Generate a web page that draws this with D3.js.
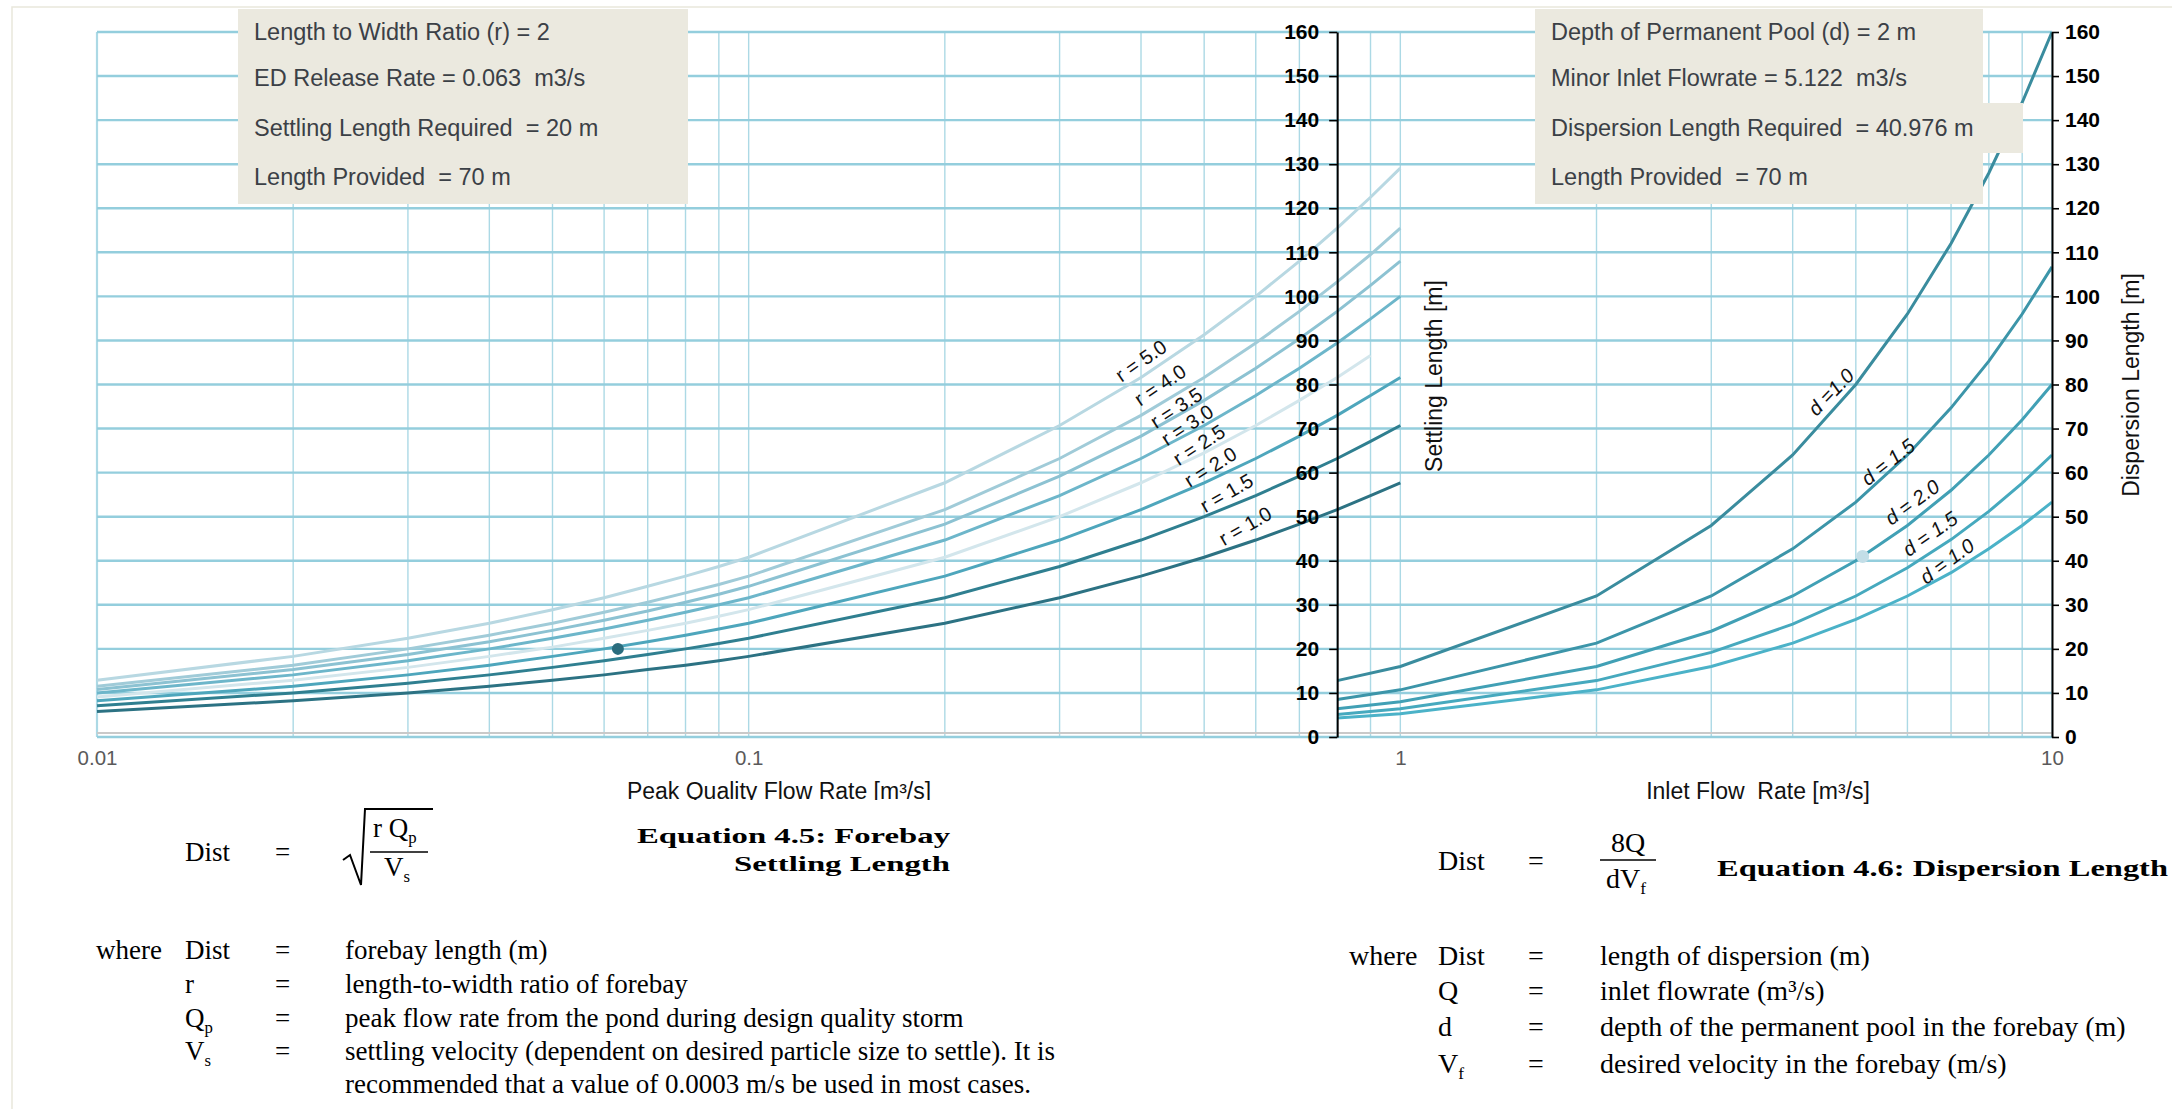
<!DOCTYPE html>
<html>
<head>
<meta charset="utf-8">
<script src="https://cdn.jsdelivr.net/npm/d3@7"></script>
<style>
  body { margin: 0; background: #fff; }
  svg { display: block; }
</style>
</head>
<body>
<div id="chart"></div>
<script>
// ---- data ----
const xTickValues = [0.01, 0.1, 1, 10];
const yTickValues = [0, 10, 20, 30, 40, 50, 60, 70, 80, 90, 100, 110, 120, 130, 140, 150, 160];

// settling length curves (left chart), Q in m3/s
const settlingQ = [0.01, 0.02, 0.03, 0.04, 0.05, 0.06, 0.07, 0.08, 0.09, 0.1,
                   0.2, 0.3, 0.4, 0.5, 0.6, 0.7, 0.8, 0.9, 1.0];
const settlingR10 = [5.8, 8.2, 10.0, 11.5, 12.9, 14.1, 15.3, 16.3, 17.3, 18.3, 25.8, 31.6, 36.5, 40.8, 44.7, 48.3, 51.6, 54.8, 57.7];
const settlingR15 = [7.1, 10.0, 12.2, 14.1, 15.8, 17.3, 18.7, 20.0, 21.2, 22.4, 31.6, 38.7, 44.7, 50.0, 54.8, 59.2, 63.2, 67.1, 70.7];
const settlingR20 = [8.2, 11.5, 14.1, 16.3, 18.3, 20.0, 21.6, 23.1, 24.5, 25.8, 36.5, 44.7, 51.6, 57.7, 63.2, 68.3, 73.0, 77.5, 81.6];
const settlingR25 = [9.1, 12.9, 15.8, 18.3, 20.4, 22.4, 24.2, 25.8, 27.4, 28.9, 40.8, 50.0, 57.7, 64.5, 70.7, 76.4, 81.6, 86.6];
const settlingR30 = [10.0, 14.1, 17.3, 20.0, 22.4, 24.5, 26.5, 28.3, 30.0, 31.6, 44.7, 54.8, 63.2, 70.7, 77.5, 83.7, 89.4, 94.9, 100.0];
const settlingR35 = [10.8, 15.3, 18.7, 21.6, 24.2, 26.5, 28.6, 30.6, 32.4, 34.2, 48.3, 59.2, 68.3, 76.4, 83.7, 90.4, 96.6, 102.5, 108.0];
const settlingR40 = [11.5, 16.3, 20.0, 23.1, 25.8, 28.3, 30.6, 32.7, 34.6, 36.5, 51.6, 63.2, 73.0, 81.6, 89.4, 96.6, 103.3, 109.5, 115.5];
const settlingR50 = [12.9, 18.3, 22.4, 25.8, 28.9, 31.6, 34.2, 36.5, 38.7, 40.8, 57.7, 70.7, 81.6, 91.3, 100.0, 108.0, 115.5, 122.5, 129.1];
const settlingLabels = ["r = 1.0", "r = 1.5", "r = 2.0", "r = 2.5", "r = 3.0", "r = 3.5", "r = 4.0", "r = 5.0"];
const settlingPoint = [0.063, 20];

// dispersion length curves (right chart)
const dispersionQ = [0.8, 1, 2, 3, 4, 5, 6, 7, 8, 9, 10];
const dispersionA = [12.8, 16.0, 32.0, 48.0, 64.0, 80.0, 96.0, 112.0, 128.0, 144.0, 160.0];
const dispersionB = [8.5, 10.7, 21.3, 32.0, 42.7, 53.3, 64.0, 74.7, 85.3, 96.0, 106.7];
const dispersionC = [6.4, 8.0, 16.0, 24.0, 32.0, 40.0, 48.0, 56.0, 64.0, 72.0, 80.0];
const dispersionD = [5.1, 6.4, 12.8, 19.2, 25.6, 32.0, 38.4, 44.8, 51.2, 57.6, 64.0];
const dispersionE = [4.3, 5.3, 10.7, 16.0, 21.3, 26.7, 32.0, 37.3, 42.7, 48.0, 53.3];
const dispersionLabels = ["d =1.0", "d = 1.5", "d = 2.0", "d = 1.5", "d = 1.0"];
const dispersionPoint = [5.122, 40.976];

const leftInfo = ["Length to Width Ratio (r) = 2", "ED Release Rate = 0.063  m3/s",
                  "Settling Length Required  = 20 m", "Length Provided  = 70 m"];
const rightInfo = ["Depth of Permanent Pool (d) = 2 m", "Minor Inlet Flowrate = 5.122  m3/s",
                   "Dispersion Length Required  = 40.976 m", "Length Provided  = 70 m"];

// ---- layout ----
const W = 2172, H = 1109;
const sans = "'Liberation Sans', Arial, sans-serif";
const serif = "'Liberation Serif', 'Times New Roman', serif";

const svg = d3.select("#chart").append("svg").attr("width", W).attr("height", H);

const x = d3.scaleLog().domain([0.01, 10]).range([97, 2052]);
const y = d3.scaleLinear().domain([0, 160]).range([737, 32]);

// outer frame
svg.append("path").attr("d", `M12,${H} L12,7 L${W},7`)
  .attr("fill", "none").attr("stroke", "#e9e7dc").attr("stroke-width", 1.5);

// grid
const grid = svg.append("g");
grid.selectAll(".v").data(x.ticks()).join("line").attr("class", "v")
  .attr("x1", d => x(d)).attr("x2", d => x(d))
  .attr("y1", y(160)).attr("y2", y(0))
  .attr("stroke", "#acd9e5").attr("stroke-width", d => d === 0.01 ? 2.2 : 1.4);
grid.selectAll(".h").data(yTickValues).join("line").attr("class", "h")
  .attr("x1", x(0.01)).attr("x2", x(10))
  .attr("y1", d => y(d)).attr("y2", d => y(d))
  .attr("stroke", "#94cedd").attr("stroke-width", 2.4);
grid.append("line")
  .attr("x1", x(0.01)).attr("x2", x(10))
  .attr("y1", y(0) - 4).attr("y2", y(0) - 4)
  .attr("stroke", "#c9c9c9").attr("stroke-width", 2);

const line = d3.line().x(d => x(d[0])).y(d => y(d[1]));

// settling curves
const settlingSeries = [
  { v: settlingR50, c: "#b8d8e2" },
  { v: settlingR40, c: "#a0cbd8" },
  { v: settlingR35, c: "#8cc2d2" },
  { v: settlingR30, c: "#6db6ca" },
  { v: settlingR25, c: "#d3e6ec" },
  { v: settlingR20, c: "#4ea6bc" },
  { v: settlingR15, c: "#2f7f90" },
  { v: settlingR10, c: "#2c7283" }
];
svg.append("g").selectAll("path").data(settlingSeries).join("path")
  .attr("d", s => line(s.v.map((v, i) => [settlingQ[i], v])))
  .attr("fill", "none").attr("stroke", s => s.c).attr("stroke-width", 3);

// dispersion curves
const dispersionSeries = [
  { v: dispersionA, c: "#3a8c9e" },
  { v: dispersionB, c: "#3c95a9" },
  { v: dispersionC, c: "#41a0b5" },
  { v: dispersionD, c: "#46a9be" },
  { v: dispersionE, c: "#4bb2c8" }
];
svg.append("g").selectAll("path").data(dispersionSeries).join("path")
  .attr("d", s => line(s.v.map((v, i) => [dispersionQ[i], v])))
  .attr("fill", "none").attr("stroke", s => s.c).attr("stroke-width", 3);

// design points
svg.append("circle").attr("cx", x(settlingPoint[0])).attr("cy", y(settlingPoint[1]))
  .attr("r", 6).attr("fill", "#2a6d7e");
svg.append("circle").attr("cx", x(dispersionPoint[0])).attr("cy", y(dispersionPoint[1]))
  .attr("r", 6.5).attr("fill", "#c3dee7");

// curve labels (anchor in data space, rotation angle)
const rLabelPos = [[0.578, 47.9, -30], [0.541, 55.4, -30], [0.511, 61.3, -32], [0.491, 66.3, -33],
                   [0.471, 70.8, -33], [0.453, 74.7, -33], [0.428, 79.9, -34], [0.400, 85.4, -35]];
svg.append("g").selectAll("text").data(settlingLabels).join("text")
  .attr("transform", (d, i) => `translate(${x(rLabelPos[i][0])},${y(rLabelPos[i][1])}) rotate(${rLabelPos[i][2]})`)
  .attr("text-anchor", "middle").attr("dominant-baseline", "central")
  .attr("font-family", sans).attr("font-size", 20).attr("fill", "#111")
  .style("white-space", "pre").text(d => d);

const dLabelPos = [[4.58, 78.3, -46], [5.60, 62.4, -38], [6.10, 53.3, -36], [6.50, 46.1, -35], [6.90, 39.9, -36]];
svg.append("g").selectAll("text").data(dispersionLabels).join("text")
  .attr("transform", (d, i) => `translate(${x(dLabelPos[i][0])},${y(dLabelPos[i][1])}) rotate(${dLabelPos[i][2]})`)
  .attr("text-anchor", "middle").attr("dominant-baseline", "central")
  .attr("font-family", sans).attr("font-size", 20).attr("font-style", "italic").attr("fill", "#111")
  .style("white-space", "pre").text(d => d);

// axes
function styleAxis(g) {
  g.select(".domain").attr("stroke", "#000").attr("stroke-width", 2);
  g.selectAll(".tick line").attr("stroke", "#000").attr("stroke-width", 1.6);
  g.selectAll(".tick text").attr("font-family", sans).attr("font-size", 21)
    .attr("font-weight", "bold").attr("fill", "#000");
}
svg.append("g").attr("transform", `translate(${x(0.8)},0)`)
  .call(d3.axisLeft(y).tickValues(yTickValues).tickSize(8).tickSizeOuter(0).tickPadding(10))
  .call(styleAxis);
svg.append("g").attr("transform", `translate(${x(10)},0)`)
  .call(d3.axisRight(y).tickValues(yTickValues).tickSize(7).tickSizeOuter(0).tickPadding(6))
  .call(styleAxis);

const xAx = svg.append("g").attr("transform", `translate(0,${y(0)})`)
  .call(d3.axisBottom(x).tickValues(xTickValues).tickSize(0).tickPadding(13).tickFormat(d => String(d)));
xAx.select(".domain").remove();
xAx.selectAll("text").attr("font-family", sans).attr("font-size", 20.5).attr("fill", "#5a5a5a");

// axis titles
svg.append("clipPath").attr("id", "cutTitle").append("rect")
  .attr("x", 0).attr("y", 0).attr("width", 1300).attr("height", 800);
svg.append("text").attr("x", 779).attr("y", 799).attr("clip-path", "url(#cutTitle)")
  .attr("text-anchor", "middle").attr("font-family", sans).attr("font-size", 23).attr("fill", "#111")
  .text("Peak Quality Flow Rate [m³/s]");
svg.append("text").attr("x", 1758).attr("y", 799)
  .attr("text-anchor", "middle").attr("font-family", sans).attr("font-size", 23).attr("fill", "#111")
  .style("white-space", "pre").text("Inlet Flow  Rate [m³/s]");
svg.append("text").attr("transform", "translate(1442,376) rotate(-90)")
  .attr("text-anchor", "middle").attr("font-family", sans).attr("font-size", 23).attr("fill", "#111")
  .text("Settling Length [m]");
svg.append("text").attr("transform", "translate(2139,385) rotate(-90)")
  .attr("text-anchor", "middle").attr("font-family", sans).attr("font-size", 23).attr("fill", "#111")
  .text("Dispersion Length [m]");

// info boxes
const boxFill = "#ebe9df";
svg.append("rect").attr("x", 238).attr("y", 9).attr("width", 450).attr("height", 195).attr("fill", boxFill);
svg.append("rect").attr("x", 1535).attr("y", 9).attr("width", 448).attr("height", 195).attr("fill", boxFill);
svg.append("rect").attr("x", 1535).attr("y", 103).attr("width", 488).attr("height", 50).attr("fill", boxFill);
const infoY = [40, 86, 136, 185];
svg.append("g").selectAll("text").data(leftInfo).join("text")
  .attr("x", 254).attr("y", (d, i) => infoY[i])
  .attr("font-family", sans).attr("font-size", 23.5).attr("fill", "#3b4046")
  .style("white-space", "pre").text(d => d);
svg.append("g").selectAll("text").data(rightInfo).join("text")
  .attr("x", 1551).attr("y", (d, i) => infoY[i])
  .attr("font-family", sans).attr("font-size", 23.5).attr("fill", "#3b4046")
  .style("white-space", "pre").text(d => d);

// ---- equations ----
const eq = svg.append("g").attr("font-family", serif).attr("fill", "#000");
// parts: strings, or {sub: "p"} for subscripts
function rich(px, py, parts, size, anchor) {
  const t = eq.append("text").attr("x", px).attr("y", py).attr("font-size", size)
    .attr("text-anchor", anchor || "start").style("white-space", "pre");
  let shift = 0;
  parts.forEach(p => {
    const s = t.append("tspan");
    if (typeof p === "string") {
      if (shift) s.attr("dy", -shift);
      shift = 0;
      s.text(p);
    } else {
      shift = size * 0.22;
      s.attr("dy", shift).attr("font-size", size * 0.62).text(p.sub);
    }
  });
  return t;
}

// equation 4.5
rich(185, 861, ["Dist"], 27);
rich(275, 861, ["="], 27);
eq.append("path").attr("d", "M343,860 L350,855 L361,885 L365,809 L433,809")
  .attr("fill", "none").attr("stroke", "#000").attr("stroke-width", 2);
rich(373, 837, ["r Q", { sub: "p" }], 27);
eq.append("line").attr("x1", 370).attr("x2", 428).attr("y1", 852).attr("y2", 852)
  .attr("stroke", "#000").attr("stroke-width", 1.6);
rich(384, 876, ["V", { sub: "s" }], 27);
eq.append("text").attr("x", 950).attr("y", 843).attr("text-anchor", "end")
  .attr("font-size", 22).attr("font-weight", "bold")
  .attr("textLength", 313).attr("lengthAdjust", "spacingAndGlyphs").text("Equation 4.5: Forebay");
eq.append("text").attr("x", 950).attr("y", 871).attr("text-anchor", "end")
  .attr("font-size", 22).attr("font-weight", "bold")
  .attr("textLength", 216).attr("lengthAdjust", "spacingAndGlyphs").text("Settling Length");

const leftWhere = [
  [959, "where", ["Dist"], "forebay length (m)"],
  [993, "", ["r"], "length-to-width ratio of forebay"],
  [1027, "", ["Q", { sub: "p" }], "peak flow rate from the pond during design quality storm"],
  [1060, "", ["V", { sub: "s" }], "settling velocity (dependent on desired particle size to settle). It is"],
  [1093, null, null, "recommended that a value of 0.0003 m/s be used in most cases."]
];
leftWhere.forEach(r => {
  if (r[1]) rich(96, r[0], [r[1]], 27);
  if (r[2]) { rich(185, r[0], r[2], 27); rich(275, r[0], ["="], 27); }
  rich(345, r[0], [r[3]], 27);
});

// equation 4.6
rich(1438, 870, ["Dist"], 28);
rich(1528, 870, ["="], 28);
rich(1628, 852, ["8Q"], 28, "middle");
eq.append("line").attr("x1", 1600).attr("x2", 1656).attr("y1", 860).attr("y2", 860)
  .attr("stroke", "#000").attr("stroke-width", 1.6);
rich(1606, 888, ["dV", { sub: "f" }], 28);
eq.append("text").attr("x", 1717).attr("y", 876)
  .attr("font-size", 23).attr("font-weight", "bold")
  .attr("textLength", 451).attr("lengthAdjust", "spacingAndGlyphs").text("Equation 4.6: Dispersion Length");

const rightWhere = [
  [965, "where", ["Dist"], ["length of dispersion (m)"]],
  [1000, "", ["Q"], ["inlet flowrate (m³/s)"]],
  [1036, "", ["d"], ["depth of the permanent pool in the forebay (m)"]],
  [1073, "", ["V", { sub: "f" }], ["desired velocity in the forebay (m/s)"]]
];
rightWhere.forEach(r => {
  if (r[1]) rich(1349, r[0], [r[1]], 28);
  rich(1438, r[0], r[2], 28);
  rich(1528, r[0], ["="], 28);
  rich(1600, r[0], r[3], 28);
});
</script>
</body>
</html>
